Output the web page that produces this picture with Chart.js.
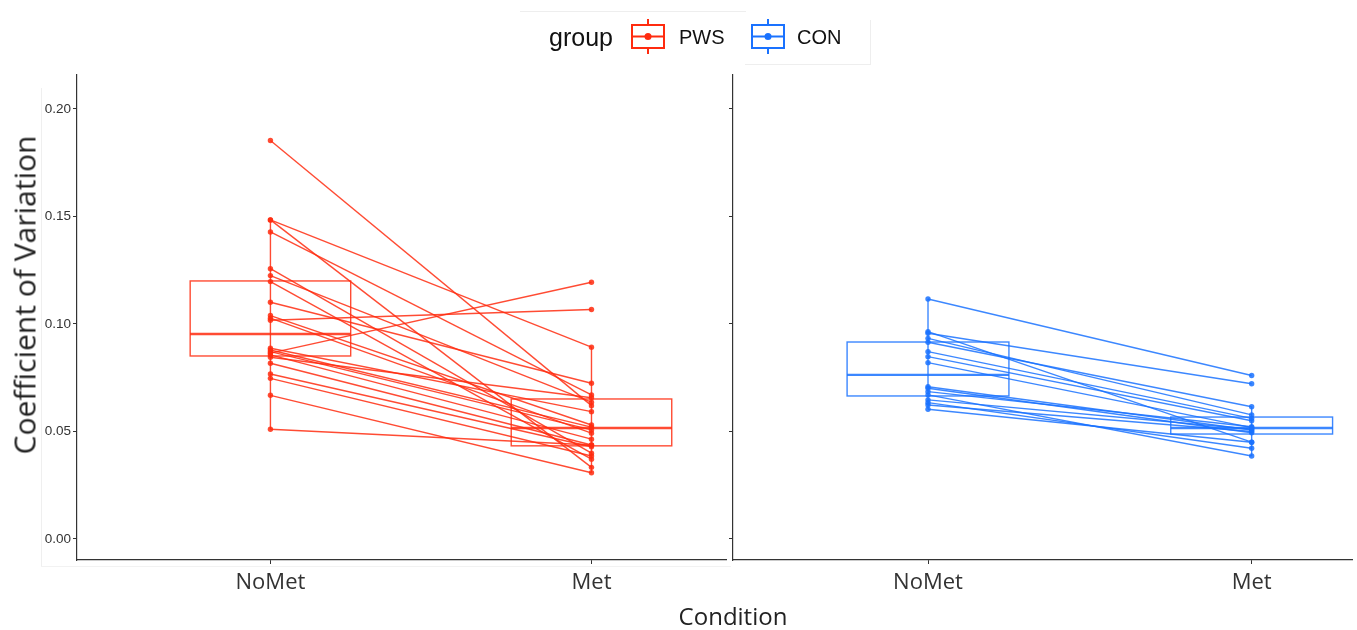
<!DOCTYPE html>
<html>
<head>
<meta charset="utf-8">
<script src="https://cdn.jsdelivr.net/npm/chart.js@4.4.1/dist/chart.umd.min.js"></script>
<style>
  html,body{margin:0;padding:0;background:#fff;}
  #wrap{position:relative;width:1357px;height:630px;overflow:hidden;background:#fff;}
  canvas{position:absolute;top:0;}
  .txt{position:absolute;white-space:nowrap;color:#222;}
</style>
</head>
<body>
<div id="wrap">
  <div style="position:absolute;left:41px;top:88px;width:0;height:478px;border-left:1px solid #efefef;"></div>
  <div style="position:absolute;left:41px;top:566px;width:690px;height:0;border-top:1px solid #f2f2f2;"></div>
  <canvas id="left" width="730" height="630" style="left:0;"></canvas>
  <canvas id="right" width="628" height="630" style="left:729px;"></canvas>
  <div class="txt" id="ytitle" style="left:24px;top:295px;font-family:'Open Sans',Lato,sans-serif;font-size:30px;transform:translate(-50%,-50%) rotate(-90deg);">Coefficient of Variation</div>
  <div class="txt" id="xtitle" style="left:733px;top:615px;font-family:'Open Sans',Lato,sans-serif;font-size:24px;transform:translate(-50%,-50%);">Condition</div>
  <div id="legend" style="position:absolute;left:520px;top:11px;width:226px;height:56px;border-top:1px solid #eee;"></div>
  <div style="position:absolute;left:745px;top:20px;width:125px;height:44px;border-right:1px solid #eee;border-bottom:1px solid #eee;"></div>
  <div class="txt" style="left:549px;top:37px;transform:translateY(-50%);font-family:'Liberation Sans',Arial,sans-serif;font-size:25px;color:#111;">group</div>
  <svg style="position:absolute;left:0;top:0;" width="1357" height="70">
    <g stroke="#ff2b0f" stroke-width="2" fill="none">
      <line x1="648" y1="19" x2="648" y2="25"/><line x1="648" y1="48" x2="648" y2="54"/>
      <rect x="632" y="25" width="32" height="23"/>
      <line x1="632" y1="36.5" x2="664" y2="36.5"/>
    </g>
    <circle cx="648" cy="36.5" r="3.5" fill="#ff2b0f"/>
    <g stroke="#1a72ff" stroke-width="2" fill="none">
      <line x1="768" y1="19" x2="768" y2="25"/><line x1="768" y1="48" x2="768" y2="54"/>
      <rect x="752" y="25" width="32" height="23"/>
      <line x1="752" y1="36.5" x2="784" y2="36.5"/>
    </g>
    <circle cx="768" cy="36.5" r="3.5" fill="#1a72ff"/>
  </svg>
  <div class="txt" style="left:679px;top:37px;transform:translateY(-50%);font-family:'Liberation Sans',Arial,sans-serif;font-size:20px;color:#111;">PWS</div>
  <div class="txt" style="left:797px;top:37px;transform:translateY(-50%);font-family:'Liberation Sans',Arial,sans-serif;font-size:20px;color:#111;">CON</div>
</div>
<script>
// ---- data ----
const categories = ['NoMet', 'Met'];
const yTicks = [0, 0.05, 0.10, 0.15, 0.20];
const yTickLabels = ['0.00', '0.05', '0.10', '0.15', '0.20'];
const groups = ['PWS', 'CON'];

const pwsNoMet = [0.1853,0.1484,0.1484,0.1428,0.1257,0.1225,0.1197,0.1101,0.1039,0.1027,0.1017,0.0887,0.0879,0.0871,0.0864,0.0856,0.0845,0.0817,0.0767,0.0747,0.0668,0.0510];
const pwsMet   = [0.0620,0.0892,0.0333,0.0670,0.0399,0.0636,0.0371,0.0724,0.0530,0.0492,0.1067,0.0592,0.0520,0.0507,0.1194,0.0464,0.0657,0.0437,0.0429,0.0386,0.0308,0.0437];

const conNoMet = [0.1116,0.0964,0.0957,0.0933,0.0915,0.0871,0.0848,0.0820,0.0708,0.0701,0.0685,0.0670,0.0647,0.0634,0.0623,0.0603];
const conMet   = [0.0760,0.0450,0.0722,0.0577,0.0615,0.0561,0.0550,0.0518,0.0507,0.0494,0.0522,0.0386,0.0510,0.0422,0.0500,0.0450];

// box stats per condition: [lower whisker, q1, median, q3, upper whisker]
const pwsBoxNoMet = [0.0510, 0.0851, 0.0953, 0.1200, 0.1484];
const pwsBoxMet   = [0.0308, 0.0433, 0.0516, 0.0651, 0.0892];
const conBoxNoMet = [0.0603, 0.0665, 0.0763, 0.0916, 0.1116];
const conBoxMet   = [0.0386, 0.0488, 0.0516, 0.0567, 0.0615];

const RED = 'rgba(255,43,15,0.85)';
const BLUE = 'rgba(26,114,255,0.85)';
const AXIS = '#333';

const boxPlugin = {
  id: 'boxes',
  beforeDatasetsDraw(chart, args, opts) {
    const ctx = chart.ctx, xs = chart.scales.x, ys = chart.scales.y;
    opts.boxes.forEach((b, i) => {
      const xc = xs.getPixelForValue(i + 1);
      const x0 = xs.getPixelForValue(i + 1 - 0.25), x1 = xs.getPixelForValue(i + 1 + 0.25);
      const [lo, q1, med, q3, hi] = b.map(v => ys.getPixelForValue(v));
      ctx.save();
      ctx.strokeStyle = opts.color;
      ctx.lineWidth = 1.4;
      ctx.beginPath();
      ctx.moveTo(xc, lo); ctx.lineTo(xc, hi);
      ctx.stroke();
      ctx.strokeRect(x0, q3, x1 - x0, q1 - q3);
      ctx.lineWidth = 2.4;
      ctx.beginPath();
      ctx.moveTo(x0, med); ctx.lineTo(x1, med);
      ctx.stroke();
      ctx.restore();
    });
  }
};

function makePanel(id, noMet, met, boxes, color, showYLabels, yWidth, xMax, padRight) {
  const datasets = noMet.map((v, i) => ({
    data: [{x: 1, y: v}, {x: 2, y: met[i]}],
    borderColor: color,
    borderWidth: 1.4,
    pointRadius: 2.7,
    pointBackgroundColor: color,
    pointBorderWidth: 0,
    tension: 0
  }));
  new Chart(document.getElementById(id), {
    type: 'line',
    data: { datasets },
    plugins: [boxPlugin],
    options: {
      responsive: false,
      animation: false,
      devicePixelRatio: 1,
      layout: { padding: { top: 75, right: padRight, left: 0, bottom: 0 } },
      plugins: {
        legend: { display: false },
        tooltip: { enabled: false },
        boxes: { boxes, color }
      },
      scales: {
        x: {
          type: 'linear',
          min: 0.3975, max: xMax,
          afterBuildTicks: s => { s.ticks = [{value: 1}, {value: 2}]; },
          afterFit: s => { s.height = 70; },
          ticks: {
            callback: v => categories[v - 1],
            font: { family: "'Open Sans', Lato, sans-serif", size: 22 },
            color: '#333', padding: 6, maxRotation: 0, autoSkip: false
          },
          grid: { display: true, drawOnChartArea: false, drawTicks: true, tickLength: 4, color: AXIS, lineWidth: 1 },
          border: { display: true, color: AXIS, width: 1.2 }
        },
        y: {
          type: 'linear',
          min: -0.0098, max: 0.2158,
          afterBuildTicks: s => { s.ticks = yTicks.map(v => ({value: v})); },
          afterFit: s => { s.width = yWidth; },
          ticks: {
            display: showYLabels,
            callback: (v, i) => yTickLabels[i],
            font: { family: "'Liberation Sans', Arial, sans-serif", size: 13.5 },
            color: '#333', padding: 2
          },
          grid: { display: true, drawOnChartArea: false, drawTicks: true, tickLength: 4, color: AXIS, lineWidth: 1 },
          border: { display: true, color: AXIS, width: 1.2 }
        }
      }
    }
  });
}

makePanel('left', pwsNoMet, pwsMet, [pwsBoxNoMet, pwsBoxMet], RED, true, 77, 2.419, 2);
makePanel('right', conNoMet, conMet, [conBoxNoMet, conBoxMet], BLUE, false, 4, 2.31, 5);
</script>
</body>
</html>
